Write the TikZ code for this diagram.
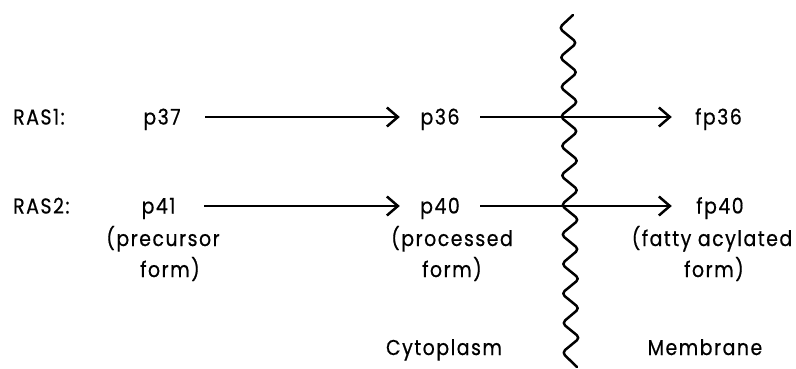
\documentclass[tikz,border=0pt]{standalone}
\usepackage{fontspec}
\setmainfont{Poppins}[FakeStretch=0.88, LetterSpace=7, FakeBold=0.6]
\usetikzlibrary{arrows.meta}
\tikzset{
  lbl/.style={font=\fontsize{21.5}{25}\selectfont, inner sep=0pt},
  prot/.style={font=\fontsize{21.5}{25}\selectfont, inner sep=0pt, text height=15pt, text depth=0pt, anchor=center},
  arr/.style={line width=2.5pt, -{Straight Barb[length=11pt,width=19pt]}},
  memline/.style={line width=2.5pt, rounded corners=4pt, line join=round, line cap=round},
}
\begin{document}
\begin{tikzpicture}[x=1pt,y=-1pt]
\useasboundingbox (0,0) rectangle (796,368);
% row 1
\node[lbl, anchor=base west] (ras1) at (13,124.5) {RAS1:};
\node[prot, minimum width=86pt] (p37) at (162,117) {p37};
\node[prot, minimum width=80pt] (p36) at (440,117) {p36};
\node[prot, minimum width=93pt] (fp36) at (718.5,117) {fp36};
% row 2
\node[lbl, anchor=base west] (ras2) at (13,213.5) {RAS2:};
\node[prot, minimum width=91pt] (p41) at (158.5,206) {p41};
\node[prot, minimum width=80pt] (p40) at (440,206) {p40};
\node[prot, minimum width=96pt] (fp40) at (720,206) {fp40};
% descriptions
\node[lbl, anchor=base] (pre1) at (163,246) {(precursor};
\node[lbl, anchor=base] (pre2) at (170,277) {form)};
\node[lbl, anchor=base] (proc1) at (452,246) {(processed};
\node[lbl, anchor=base] (proc2) at (452,277) {form)};
\node[lbl, anchor=base] (fat1) at (712,246) {(fatty acylated};
\node[lbl, anchor=base] (fat2) at (714,277) {form)};
\node[lbl, anchor=base] (cyto) at (444,355) {Cytoplasm};
\node[lbl, anchor=base] (memb) at (705,355) {Membrane};
% membrane
\draw[memline] (573,15)
  -- (559,28) -- (577,42.75) -- (559.5,57.5) -- (577.5,72.25) -- (560,87) -- (578,101.75)
  -- (560,116.5) -- (578,131.25) -- (560.5,146) -- (578.5,160.75) -- (560.5,175.5) -- (578.5,190.25)
  -- (561,205) -- (579,219.75) -- (561,234.5) -- (579,249.25) -- (561.5,264) -- (579.5,278.75)
  -- (561.5,293.5) -- (579.5,308.25) -- (562,323) -- (580,337.75) -- (562,352.5) -- (577,367);
% arrows
\draw[arr] (p37) -- (p36);
\draw[arr] (p36) -- (fp36);
\draw[arr] (p41) -- (p40);
\draw[arr] (p40) -- (fp40);
\end{tikzpicture}
\end{document}
